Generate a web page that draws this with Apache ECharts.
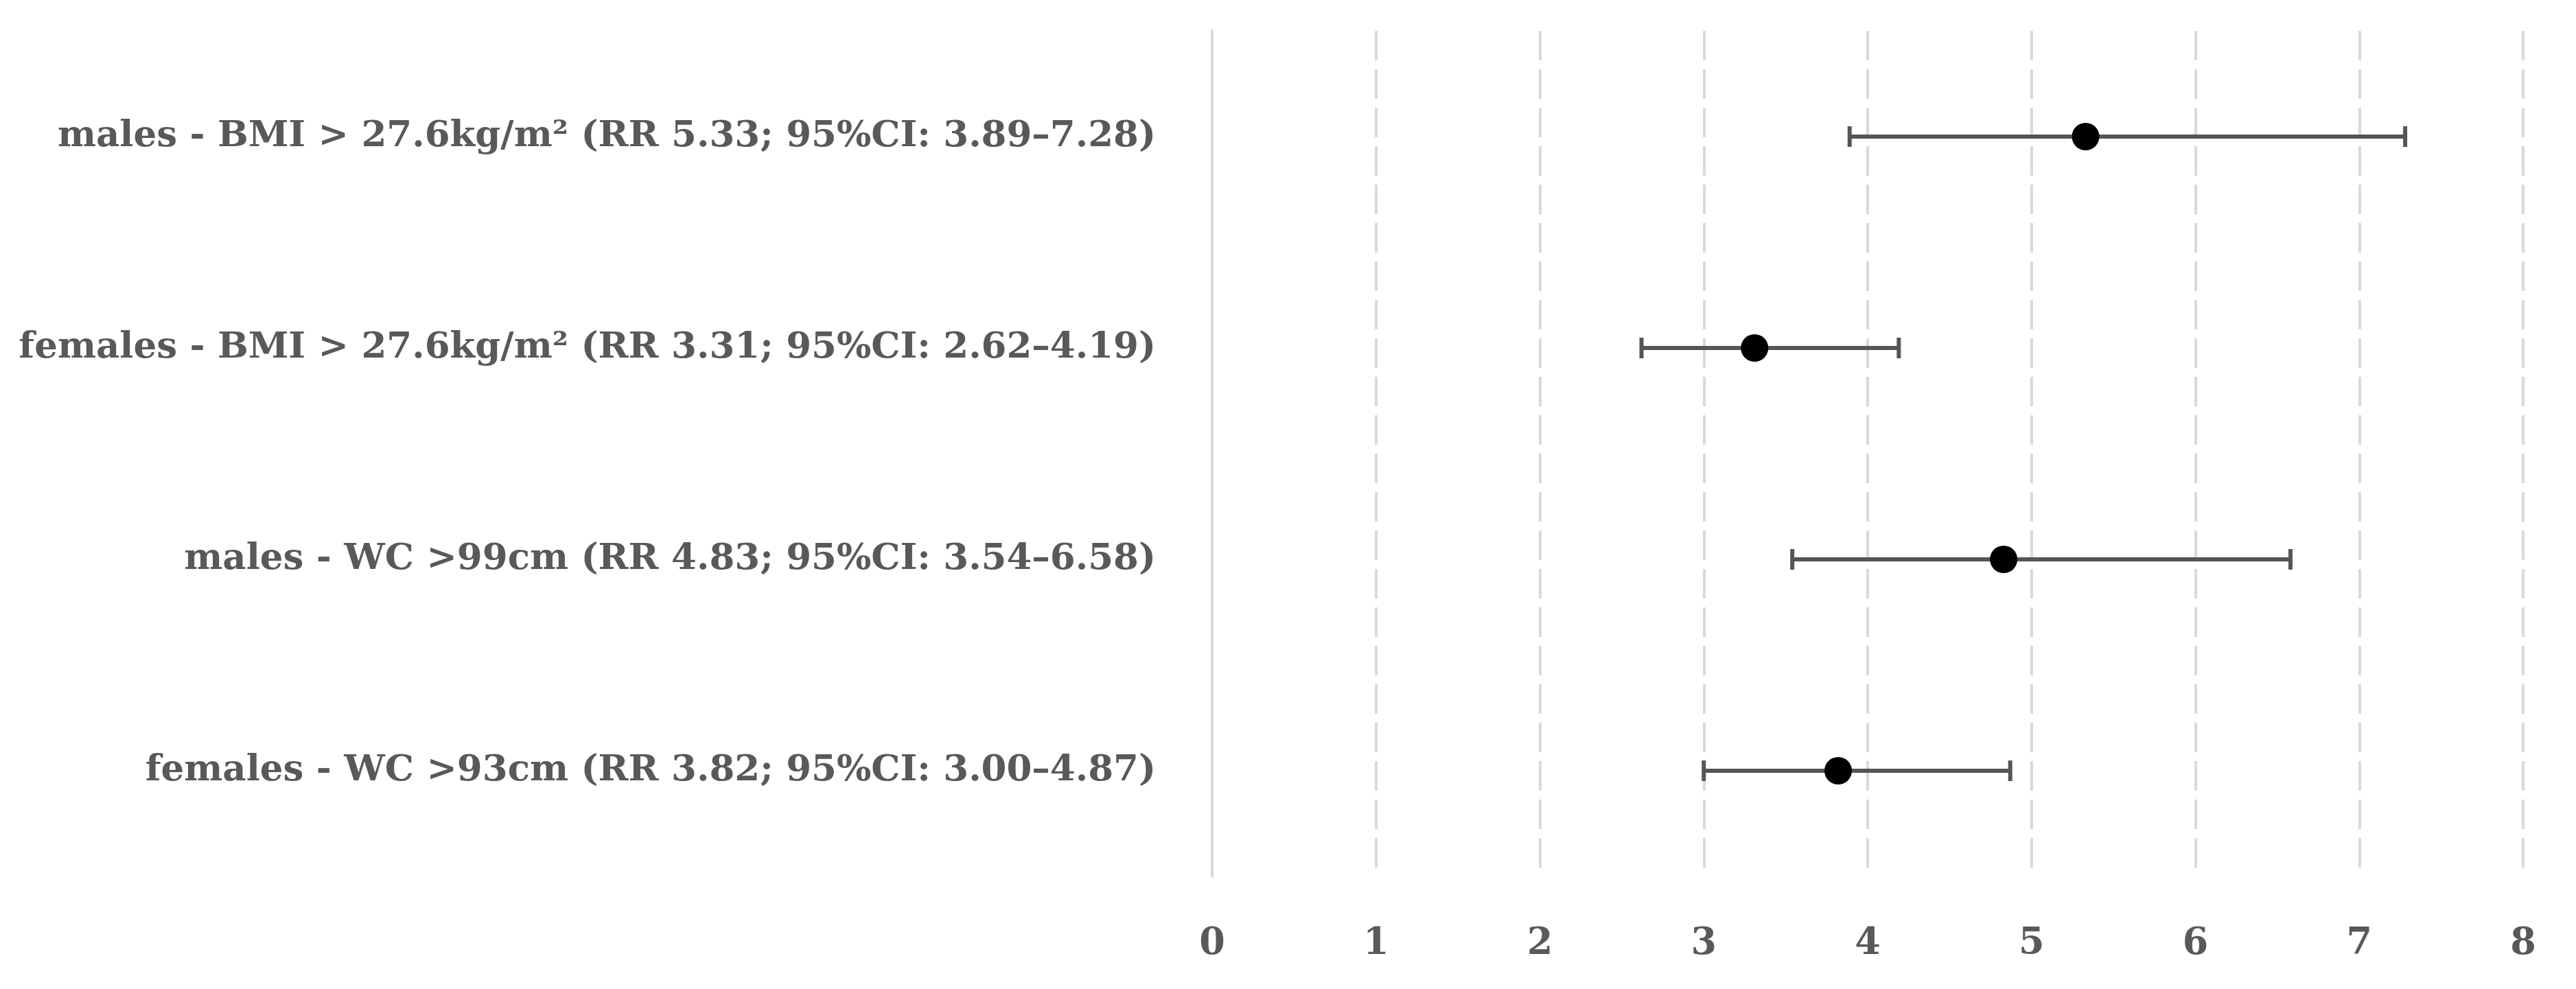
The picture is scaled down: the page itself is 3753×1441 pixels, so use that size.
<!DOCTYPE html>
<html>
<head>
<meta charset="utf-8">
<script src="https://cdn.jsdelivr.net/npm/echarts@6/dist/echarts.min.js"></script>
<style>
    html, body { margin: 0; padding: 0; background: #fff; }
    #chart { width: 3753px; height: 1441px; }
</style>
</head>
<body>
<div id="chart"></div>
<script>
    // rows, top to bottom
    const categories = [
        'males - BMI > 27.6kg/m² (RR 5.33; 95%CI: 3.89–7.28)',
        'females - BMI > 27.6kg/m² (RR 3.31; 95%CI: 2.62–4.19)',
        'males - WC >99cm (RR 4.83; 95%CI: 3.54–6.58)',
        'females - WC >93cm (RR 3.82; 95%CI: 3.00–4.87)'
    ];
    const rr = [5.33, 3.31, 4.83, 3.82];
    const ciLow = [3.89, 2.62, 3.54, 3.00];
    const ciHigh = [7.28, 4.19, 6.58, 4.87];
    const xTicks = [0, 1, 2, 3, 4, 5, 6, 7, 8];

    const textColor = '#595959';
    const fontFamily = '"DejaVu Serif", "Liberation Serif", serif';

    const myChart = echarts.init(document.getElementById('chart'));

    const ciData = categories.map(function (c, i) { return [ciLow[i], ciHigh[i], c]; });
    const pointData = categories.map(function (c, i) { return [rr[i], c]; });

    myChart.setOption({
        animation: false,
        grid: { left: 1766, right: 77, top: 45, bottom: 164, containLabel: false },
        xAxis: {
            type: 'value',
            min: xTicks[0],
            max: xTicks[xTicks.length - 1],
            interval: 1,
            axisLine: { show: false },
            axisTick: { show: false },
            axisLabel: {
                color: textColor,
                fontFamily: fontFamily,
                fontWeight: 'bold',
                fontSize: 54,
                margin: 72
            },
            splitLine: {
                show: true,
                lineStyle: { color: '#d9d9d9', width: 4, type: [43, 13] }
            }
        },
        yAxis: {
            type: 'category',
            data: categories,
            inverse: true,
            axisLine: { show: true, lineStyle: { color: '#d9d9d9', width: 4 } },
            axisTick: { show: false },
            axisLabel: {
                color: textColor,
                fontFamily: fontFamily,
                fontWeight: 'bold',
                fontSize: 53,
                margin: 82
            }
        },
        series: [
            {
                type: 'custom',
                data: ciData,
                encode: { x: [0, 1], y: 2 },
                renderItem: function (params, api) {
                    const lo = api.coord([api.value(0), api.value(2)]);
                    const hi = api.coord([api.value(1), api.value(2)]);
                    const half = 15;
                    const style = { stroke: '#555555', lineWidth: 6 };
                    return {
                        type: 'group',
                        children: [
                            { type: 'line', shape: { x1: lo[0], y1: lo[1], x2: hi[0], y2: hi[1] }, style: style },
                            { type: 'line', shape: { x1: lo[0], y1: lo[1] - half, x2: lo[0], y2: lo[1] + half }, style: style },
                            { type: 'line', shape: { x1: hi[0], y1: hi[1] - half, x2: hi[0], y2: hi[1] + half }, style: style }
                        ]
                    };
                },
                z: 2
            },
            {
                type: 'scatter',
                data: pointData,
                symbol: 'circle',
                symbolSize: 40,
                itemStyle: { color: '#000', opacity: 1 },
                z: 3
            }
        ]
    });
</script>
</body>
</html>
